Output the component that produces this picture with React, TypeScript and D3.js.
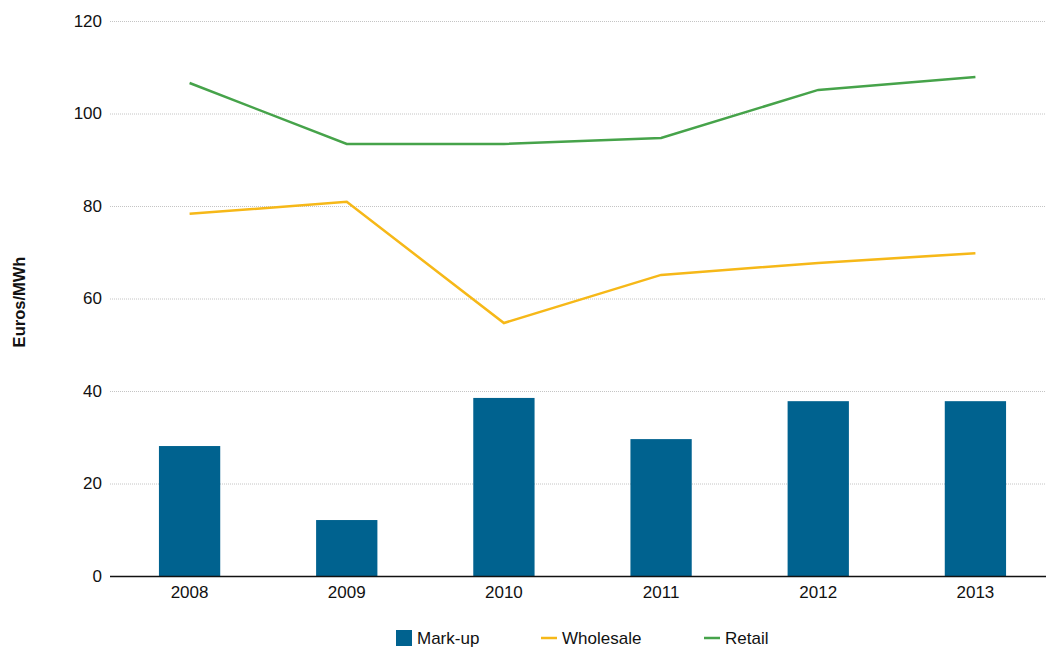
import React, { useEffect, useRef } from 'react';
import * as d3 from 'd3';

const years = ['2008', '2009', '2010', '2011', '2012', '2013'];
const markup = [28.1, 12.1, 38.5, 29.6, 37.8, 37.8];
const wholesale = [78.3, 80.9, 54.7, 65.1, 67.7, 69.8];
const retail = [106.6, 93.4, 93.4, 94.7, 105.1, 107.9];
const yTicks = [0, 20, 40, 60, 80, 100, 120];

const W = 1046;
const H = 653;
const FONT = '"Liberation Sans", Arial, sans-serif';

export default function App() {
  const svgRef = useRef<SVGSVGElement>(null);

  useEffect(() => {
    if (!svgRef.current) return;
    const svg = d3.select(svgRef.current);
    svg.selectAll('*').remove();

    const x = d3.scaleBand<string>().domain(years).range([111, 1054]).paddingInner(0.61).paddingOuter(0.305);
    const y = d3.scaleLinear().domain([0, 120]).range([576, 21]);
    const cx = (d: string) => (x(d) || 0) + x.bandwidth() / 2;

    // gridlines
    svg.append('g')
      .selectAll('line')
      .data(yTicks.filter(t => t > 0))
      .join('line')
      .attr('x1', 110)
      .attr('x2', W)
      .attr('y1', d => y(d) + 0.5)
      .attr('y2', d => y(d) + 0.5)
      .attr('stroke', '#c4c4c4')
      .attr('stroke-width', 1)
      .attr('stroke-dasharray', '1,1');

    // y tick labels
    svg.append('g')
      .selectAll('text')
      .data(yTicks)
      .join('text')
      .attr('x', 102)
      .attr('y', d => y(d))
      .attr('dy', '0.35em')
      .attr('text-anchor', 'end')
      .attr('font-family', FONT)
      .attr('font-size', 17)
      .attr('fill', '#111')
      .text(d => d);

    // y axis title
    svg.append('text')
      .attr('transform', `translate(25,302) rotate(-90)`)
      .attr('text-anchor', 'middle')
      .attr('font-family', FONT)
      .attr('font-size', 16.5)
      .attr('font-weight', 'bold')
      .attr('fill', '#111')
      .text('Euros/MWh');

    // bars
    svg.append('g')
      .selectAll('rect')
      .data(markup)
      .join('rect')
      .attr('x', (_, i) => x(years[i]) || 0)
      .attr('y', d => y(d))
      .attr('width', x.bandwidth())
      .attr('height', d => y(0) - y(d))
      .attr('fill', '#00628f');

    // lines
    const line = d3.line<number>()
      .x((_, i) => cx(years[i]))
      .y(d => y(d));

    svg.append('path')
      .datum(wholesale)
      .attr('fill', 'none')
      .attr('stroke', '#f6b818')
      .attr('stroke-width', 2.5)
      .attr('d', line);

    svg.append('path')
      .datum(retail)
      .attr('fill', 'none')
      .attr('stroke', '#46a34a')
      .attr('stroke-width', 2.5)
      .attr('d', line);

    // x axis
    svg.append('line')
      .attr('x1', 110)
      .attr('x2', W)
      .attr('y1', y(0) + 0.5)
      .attr('y2', y(0) + 0.5)
      .attr('stroke', '#111')
      .attr('stroke-width', 1.5);

    svg.append('g')
      .selectAll('text')
      .data(years)
      .join('text')
      .attr('x', d => cx(d))
      .attr('y', 598)
      .attr('text-anchor', 'middle')
      .attr('font-family', FONT)
      .attr('font-size', 17)
      .attr('fill', '#111')
      .text(d => d);

    // legend
    const leg = svg.append('g').attr('font-family', FONT).attr('font-size', 17).attr('fill', '#111');
    leg.append('rect').attr('x', 396).attr('y', 630).attr('width', 16).attr('height', 16).attr('fill', '#00628f');
    leg.append('text').attr('x', 417).attr('y', 644).text('Mark-up');
    leg.append('line').attr('x1', 541).attr('x2', 557).attr('y1', 638).attr('y2', 638)
      .attr('stroke', '#f6b818').attr('stroke-width', 2.5);
    leg.append('text').attr('x', 562).attr('y', 644).text('Wholesale');
    leg.append('line').attr('x1', 704).attr('x2', 720).attr('y1', 638).attr('y2', 638)
      .attr('stroke', '#46a34a').attr('stroke-width', 2.5);
    leg.append('text').attr('x', 725).attr('y', 644).text('Retail');
  }, []);

  return (
    <svg
      ref={svgRef}
      width={W}
      height={H}
      style={{ position: 'absolute', left: 0, top: 0, background: '#fff' }}
    />
  );
}
